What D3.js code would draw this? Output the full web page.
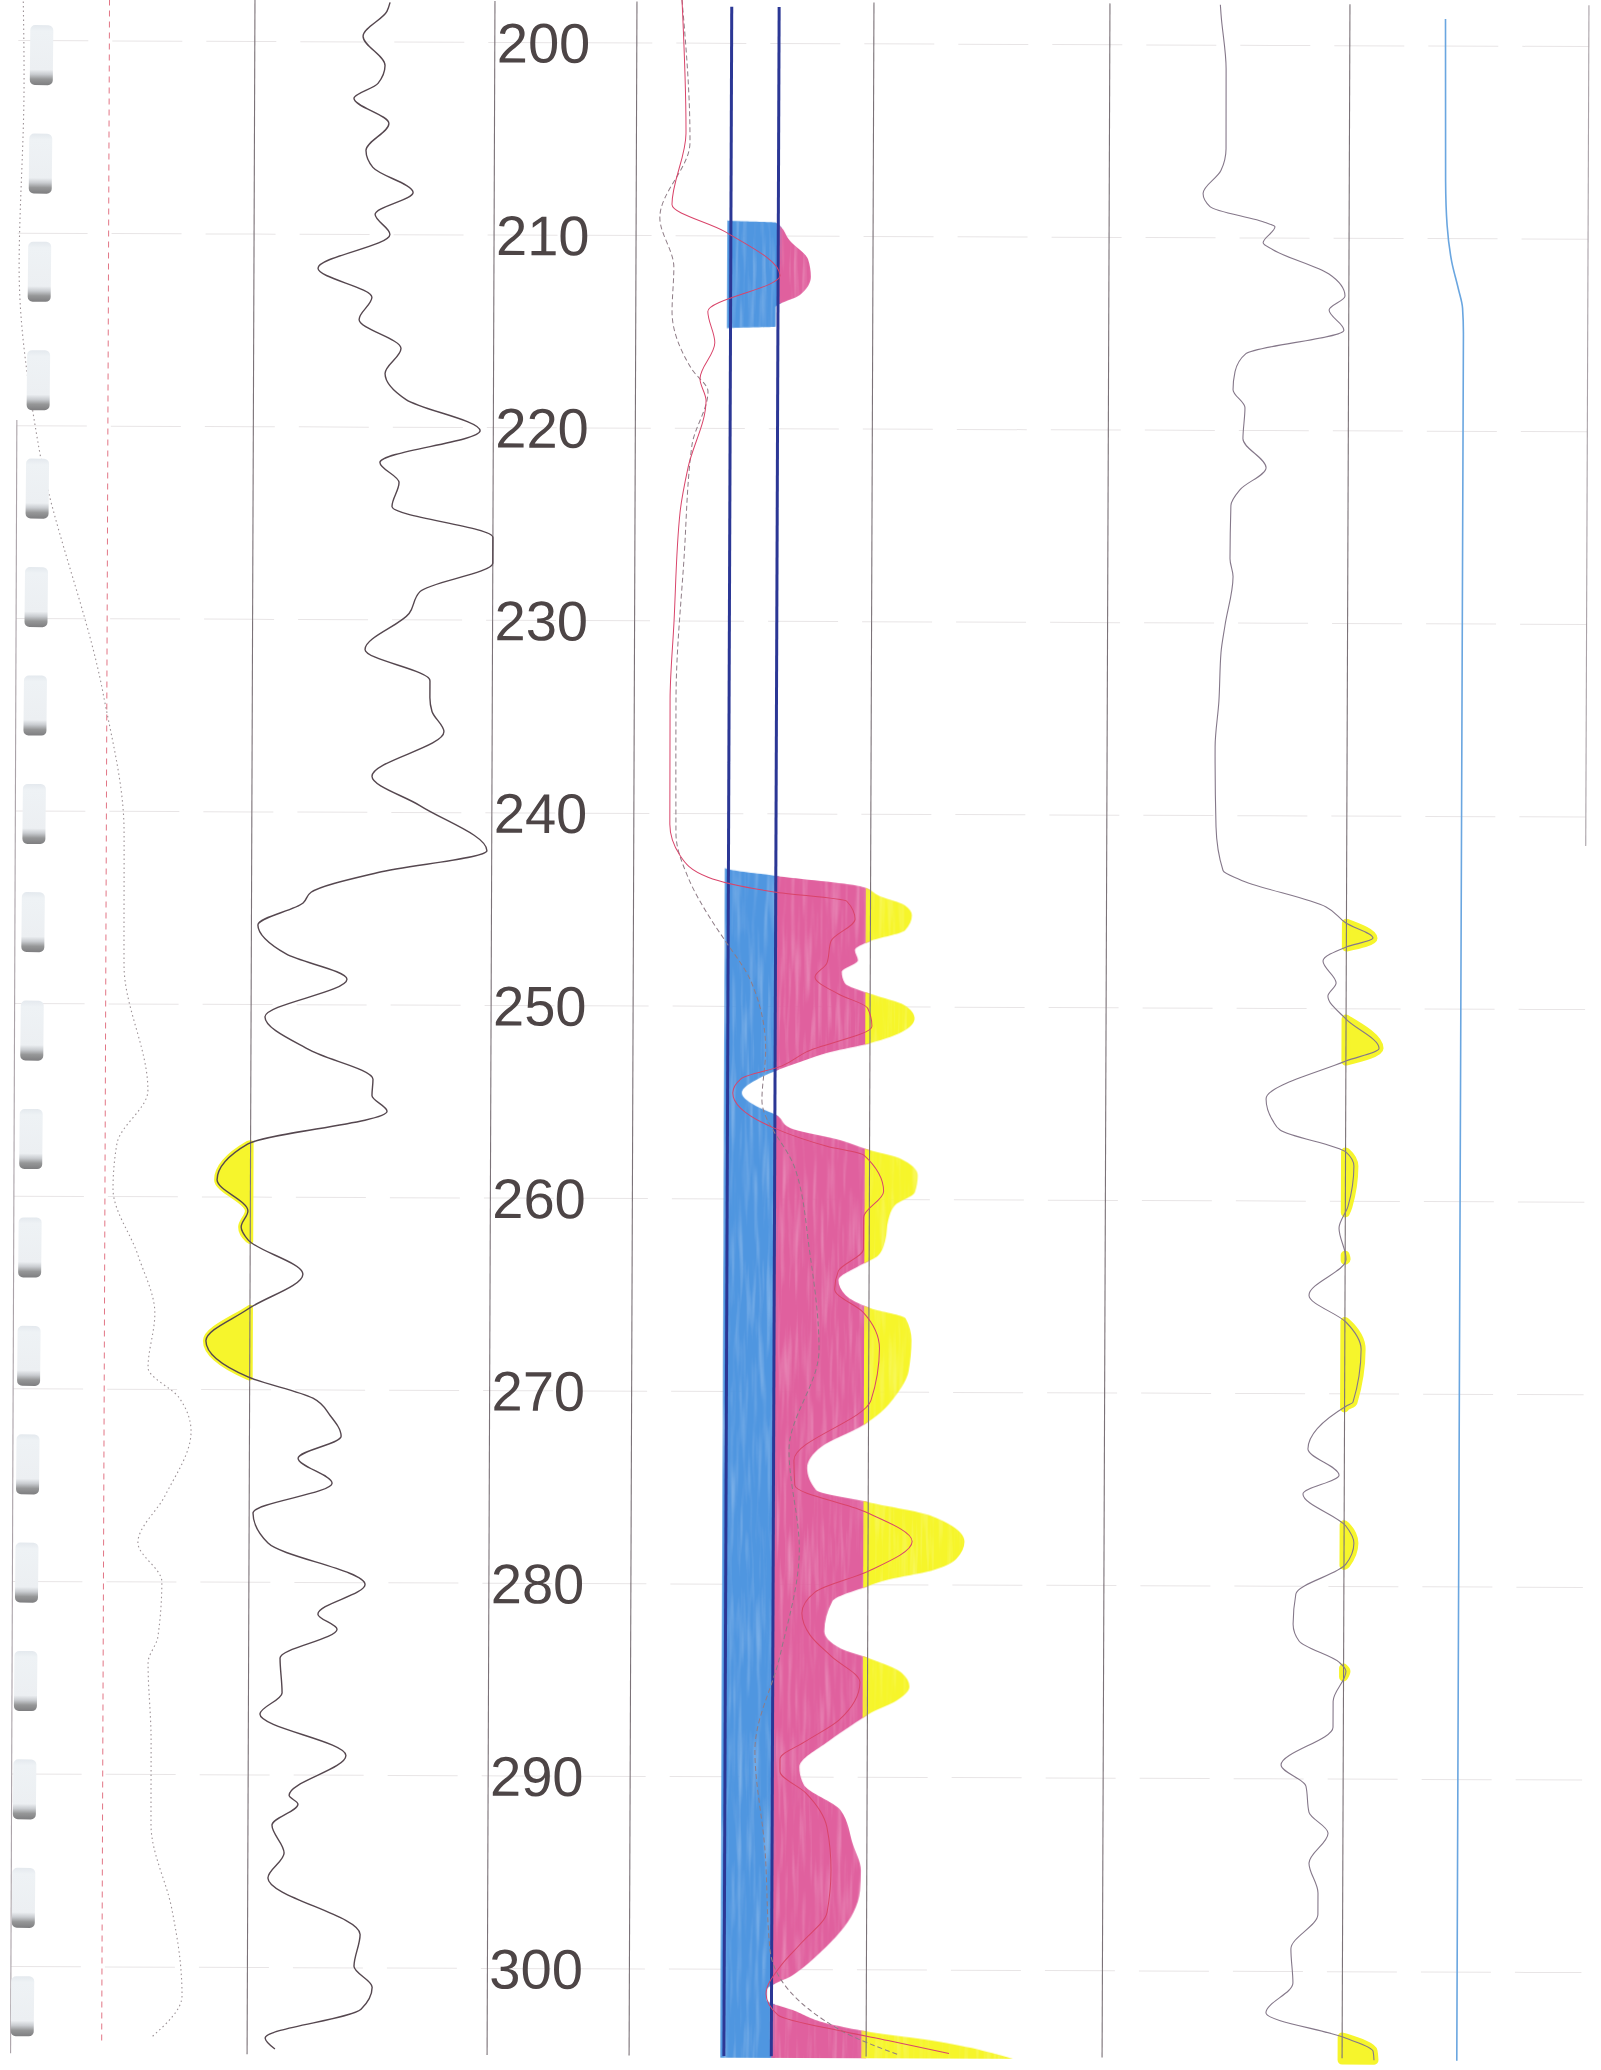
<!DOCTYPE html>
<html>
<head>
<meta charset="utf-8">
<script src="https://cdn.jsdelivr.net/npm/d3@7"></script>
<style>
  html, body { margin: 0; padding: 0; background: #fff; }
  svg { display: block; }
</style>
</head>
<body>
<div id="log"></div>
<script>
const width = 1601;
const height = 2070;

// depth labels in the depth track
const depthTicks = [200, 210, 220, 230, 240, 250, 260, 270, 280, 290, 300];

// core sample markers (centre depth)
const coreDepths = [200.75, 206.38, 212.0, 217.63, 223.26, 228.89, 234.52, 240.15, 245.77, 251.4,
  257.03, 262.66, 268.29, 273.92, 279.54, 285.17, 290.8, 296.43, 302.06];

// track 1 dotted curve [depth, value 0-10]
const dottedCurve = [[197.74,0.2],[202.36,0.25],[211.65,0.07],[220.89,0.9],[233.87,3.69],[241.04,4.6],
  [247.99,4.62],[254.49,5.65],[257.24,4.35],[259.58,4.19],[263.05,5.26],[266.07,5.98],[268.87,5.7],
  [270.43,7.02],[272.19,7.53],[275.52,6.44],[277.96,5.3],[279.99,6.32],[282.85,6.16],[284.2,5.75],
  [288.2,5.89],[292.6,5.9],[297.01,6.8],[300.13,7.19],[301.48,7.24],[303.66,5.94]];
const track1Cutoff = 3.85;

// track 2 main curve
const gammaCurve = [[197.94,5.63],[198.41,5.5],[199.7,4.51],[201.22,5.43],[202.15,5.14],[202.93,4.14],
  [204.23,5.6],[205.63,4.65],[206.51,4.94],[207.81,6.62],[208.95,5.04],[209.99,5.66],[211.76,2.67],
  [213.26,4.92],[214.41,4.39],[215.91,6.14],[217.21,5.48],[218.56,6.36],[220.17,9.45],[221.83,5.28],
  [222.87,6.08],[224.11,5.79],[225.7,10.4],[227.04,10.4],[228.53,6.97],[229.67,6.52],[231.54,4.69],
  [233.15,7.4],[234.03,7.4],[234.75,7.49],[235.8,7.99],[238.13,5.0],[239.64,7.0],[241.97,9.8],
  [243.12,5.27],[244.16,2.48],[244.72,2.15],[245.87,0.27],[247.37,1.45],[248.67,3.99],[250.64,0.58],
  [252.36,2.46],[253.86,5.09],[254.7,5.05],[255.52,5.68],[257.24,-0.11],[259.11,-1.39],[260.72,-0.1],
  [261.55,-0.38],[262.22,-0.09],[263.99,2.2],[265.81,-0.08],[267.47,-1.83],[269.34,-0.07],[270.43,2.64],
  [271.31,3.35],[272.4,3.82],[273.55,2.03],[274.84,3.45],[276.4,0.16],[277.96,0.79],[280.09,4.84],
  [281.64,2.88],[282.42,3.68],[283.93,1.31],[285.74,1.4],[286.84,0.48],[288.97,4.07],[291.05,1.71],
  [291.51,2.08],[292.6,1.0],[294.05,1.51],[295.35,0.84],[298.26,4.69],[299.92,4.44],[301.0,5.2],
  [302.15,4.74],[303.66,0.75],[304.23,1.16]];

// track 4 curves
const resShallow = [[197.74,1.9],[204.69,2.09],[208.38,1.51],[209.78,3.75],[212.05,6.08],[213.93,3.04],
  [215.55,3.34],[217.42,2.72],[218.56,2.98],[222.04,2.23],[224.37,1.9],[230.14,1.66],[234.07,1.51],
  [240.56,1.52],[242.17,1.95],[243.3,3.14],[244.05,5.93],[244.52,9.0],[245.45,9.35],[246.59,8.34],
  [247.74,8.17],[248.46,7.67],[249.35,8.68],[250.07,9.9],[251.0,10.08],[252.36,7.3],[253.08,6.29],
  [253.76,4.56],[254.49,4.22],[256.3,5.95],[257.24,8.2],[257.7,9.76],[259.58,10.6],[260.93,9.76],
  [262.59,9.76],[263.73,8.7],[264.67,8.55],[265.86,9.76],[267.73,10.45],[270.43,10.1],[273.55,6.86],
  [274.85,6.9],[276.19,9.82],[277.75,11.86],[279.31,10.0],[280.4,7.77],[281.49,7.22],[282.63,7.57],
  [283.72,8.46],[285.07,9.68],[287.04,8.8],[288.14,7.41],[289.07,6.32],[289.7,6.32],[290.84,7.42],
  [292.6,8.31],[294.84,8.49],[297.02,8.33],[298.58,7.28],[299.72,6.44],[301.27,5.77],[302.37,6.28],
  [303.24,9.19],[303.66,10.92],[304.33,13.5]];
const resDeep = [[197.74,1.9],[205.16,2.26],[209.05,1.0],[211.65,1.6],[213.93,1.53],[216.94,2.38],
  [218.09,3.06],[220.89,2.39],[226.66,2.08],[234.02,1.76],[241.04,1.78],[243.32,2.3],[245.66,3.36],
  [246.59,3.87],[248.62,4.94],[252.26,5.6],[254.85,5.45],[258.38,6.85],[262.64,7.48],[267.83,7.9],
  [273.02,6.65],[278.2,7.1],[283.72,6.3],[288.6,5.26],[293.79,5.7],[298.98,5.93],[303.13,8.9],[304.43,11.43]];
// outer edge of the hand colouring in tracks 4-5
const shadeEdge = [[197.7,2.5],[209.2,2.5],[209.3,5.9],[210.25,6.5],[211.2,7.26],[212.1,7.38],[213.05,6.92],
  [213.7,5.9],[214.7,5.9],[214.8,2.5],[242.8,2.5],[243.2,5.92],[243.74,9.55],[244.26,10.4],[244.72,11.45],
  [245.24,11.75],[246.02,11.46],[246.59,9.98],[247.06,9.35],[247.58,9.48],[248.2,8.8],[248.77,8.93],
  [249.35,10.07],[249.92,11.46],[250.59,11.88],[251.22,11.47],[251.89,10.0],[252.36,8.32],[252.88,7.05],
  [253.29,6.12],[253.71,5.36],[254.49,4.6],[255.27,5.36],[255.63,6.04],[256.3,6.64],[256.93,8.75],
  [257.45,10.02],[257.86,11.28],[258.75,12.04],[259.63,11.92],[260.3,11.08],[261.08,10.8],[262.12,10.68],
  [262.9,10.39],[263.42,9.63],[264.2,8.71],[264.98,9.01],[265.65,10.07],[266.17,11.55],[267.31,11.8],
  [268.87,11.69],[270.17,11.15],[271.05,10.52],[271.73,9.77],[272.87,8.0],[273.96,7.42],[275.1,7.8],
  [275.73,10.04],[276.4,12.62],[277.75,14.07],[278.63,13.74],[279.26,12.68],[279.72,10.9],[280.09,9.97],
  [280.87,8.5],[282.43,8.17],[283.31,8.85],[283.83,10.08],[284.56,11.43],[285.29,11.77],[286.01,11.23],
  [286.64,10.17],[287.31,9.33],[288.14,8.36],[289.49,7.14],[290.38,7.32],[291.73,8.89],[293.49,9.41],
  [294.84,9.75],[295.88,9.72],[297.02,9.44],[299.05,8.1],[300.29,6.89],[301.07,5.8],[301.58,5.8],
  [302.1,6.9],[302.83,8.47],[303.24,10.2],[303.66,12.77],[304.17,14.92],[304.59,16.2]];
const blueCutoffs = [4, 6];

// track 6 curve
const track6Curve = [[197.9,4.6],[198.41,4.63],[201.22,4.85],[205.37,4.86],[206.51,4.65],[207.7,3.91],
  [208.38,4.2],[209.21,6.54],[209.42,6.91],[210.25,6.42],[210.61,6.83],[211.86,9.17],[213.0,9.84],
  [213.73,9.18],[214.77,9.8],[216.01,5.72],[216.95,5.27],[217.88,5.19],[218.82,5.69],[220.43,5.61],
  [221.93,6.58],[223.07,5.5],[223.9,5.12],[226.66,5.09],[227.59,5.22],[230.14,4.89],[231.54,4.73],
  [234.08,4.65],[236.42,4.5],[240.57,4.55],[242.85,4.85],[243.32,5.56],[244.72,9.15],[245.55,9.98],
  [246.33,11.11],[246.8,9.99],[247.53,9.03],[248.67,9.58],[249.35,9.24],[250.54,10.0],[252.05,11.38],
  [252.72,10.0],[254.7,6.68],[255.84,6.97],[256.31,7.27],[257.45,10.02],[258.18,10.35],[260.26,10.11],
  [261.4,9.74],[263.01,10.04],[264.88,8.5],[266.28,10.05],[267.68,10.68],[270.43,10.35],[270.64,10.06],
  [272.87,8.48],[274.22,9.78],[275.2,8.28],[276.87,10.08],[277.75,10.41],[278.84,10.08],[280.4,8.0],
  [281.96,7.89],[282.84,8.14],[283.93,9.81],[284.4,10.1],[285.96,9.57],[287.31,9.57],[289.28,7.41],
  [290.37,8.45],[291.72,8.58],[292.81,9.38],[294.37,8.59],[295.92,8.97],[297.02,8.97],[298.83,7.85],
  [300.6,7.94],[302.15,6.82],[303.45,10.16],[304.12,11.29],[304.59,11.33]];

// track 7 blue line
const track7Line = [[198.6,4.0],[207.0,4.03],[209.3,4.1],[211.2,4.3],[212.6,4.58],[213.6,4.76],[215.0,4.8],[304.6,4.8]];

const topDepth = 197.85, bottomDepth = 304.5, track7End = 241.5, leftLineStart = 219.7;

const blue = "#5096e0", pink = "#e0609e", yellow = "#f6f52c";

const svg = d3.select("#log").append("svg").attr("width", width).attr("height", height);
svg.append("rect").attr("width", width).attr("height", height).attr("fill", "#fff");
const defs = svg.append("defs");

// soft pencil streaks for the hand colouring
const crayon = defs.append("filter").attr("id", "crayon")
  .attr("x", 0).attr("y", 0).attr("width", 1).attr("height", 1);
crayon.append("feTurbulence").attr("type", "fractalNoise")
  .attr("baseFrequency", "0.22 0.015").attr("numOctaves", 2).attr("seed", 4).attr("result", "n");
crayon.append("feColorMatrix").attr("in", "n").attr("type", "matrix")
  .attr("values", "0 0 0 0 0  0 0 0 0 0  0 0 0 0 0  0 0 0 -0.6 1.28").attr("result", "a");
crayon.append("feComposite").attr("in", "SourceGraphic").attr("in2", "a").attr("operator", "in");

// the scan is a little skewed
const g = svg.append("g").attr("transform", "rotate(0.22 800 1035)");

const y = d3.scaleLinear().domain([200, 300]).range([43.6, 1969.6]);
const edges = [14.5, 251, 491, 633, 870, 1106, 1346, 1585];
const x1 = d3.scaleLinear().domain([0, 10]).range([edges[0], edges[1]]);
const x2 = d3.scaleLinear().domain([0, 10]).range([edges[1], edges[2]]);
const x4 = d3.scaleLinear().domain([0, 10]).range([edges[3], edges[4]]);
const x6 = d3.scaleLinear().domain([0, 10]).range([edges[5], edges[6]]);
const x7 = d3.scaleLinear().domain([0, 10]).range([edges[6], edges[7]]);

const curveLine = xs => d3.line().curve(d3.curveMonotoneY).x(d => xs(d[1])).y(d => y(d[0]));

// split a curve into runs where it is past a cutoff
function runs(data, inside, base) {
  const out = [];
  let cur = null;
  data.forEach((p, i) => {
    const ins = inside(p[1]);
    if (ins && !cur) {
      cur = [];
      if (i > 0) {
        const q = data[i - 1], t = (base - q[1]) / (p[1] - q[1]);
        cur.push([q[0] + t * (p[0] - q[0]), base]);
      }
    }
    if (ins) cur.push(p);
    if (!ins && cur) {
      const q = data[i - 1], t = (base - q[1]) / (p[1] - q[1]);
      cur.push([q[0] + t * (p[0] - q[0]), base]);
      out.push(cur);
      cur = null;
    }
  });
  if (cur) out.push(cur);
  return out;
}

// grid lines
g.append("g").selectAll("line").data(depthTicks).join("line")
  .attr("x1", edges[0]).attr("x2", edges[7])
  .attr("y1", d => y(d)).attr("y2", d => y(d))
  .attr("stroke", "#e8e5e6").attr("stroke-width", 1).attr("stroke-dasharray", "70,24");

// colour bands in tracks 4-5
const bands = [
  { id: "bandBlue", from: 3.6, to: 6.15, color: blue },
  { id: "bandPink", from: 6.0, to: 10, color: pink },
  { id: "bandYellow", from: 9.8, to: 22, color: yellow }
];
const shadeArea = d3.area().curve(d3.curveMonotoneY)
  .y(d => y(d[0])).x0(x4(3.85)).x1(d => x4(Math.max(d[1], 3.85)));
bands.forEach(b => {
  defs.append("clipPath").attr("id", b.id).append("rect")
    .attr("x", x4(b.from)).attr("width", x4(b.to) - x4(b.from))
    .attr("y", 0).attr("height", height);
  g.append("g").attr("clip-path", `url(#${b.id})`)
    .append("path").datum(shadeEdge).attr("d", shadeArea)
    .attr("fill", b.color).attr("filter", "url(#crayon)");
});

// yellow where track 2 curve passes left of its line
const area2 = d3.area().curve(d3.curveMonotoneY).y(d => y(d[0])).x0(x2(0)).x1(d => x2(d[1]));
g.append("g").selectAll("path").data(runs(gammaCurve, v => v < 0, 0)).join("path")
  .attr("d", area2).attr("fill", yellow).attr("stroke", yellow)
  .attr("stroke-width", 6).attr("stroke-linejoin", "round");

// yellow where track 6 curve passes its right line
const area6 = d3.area().curve(d3.curveMonotoneY).y(d => y(d[0])).x0(x6(10)).x1(d => x6(d[1]));
g.append("g").selectAll("path").data(runs(track6Curve, v => v > 10, 10)).join("path")
  .attr("d", area6).attr("fill", yellow).attr("stroke", yellow)
  .attr("stroke-width", 9).attr("stroke-linejoin", "round");

// track borders
g.append("g").selectAll("line").data(edges).join("line")
  .attr("x1", d => d).attr("x2", d => d)
  .attr("y1", (d, i) => i === 0 ? y(leftLineStart) : y(topDepth))
  .attr("y2", (d, i) => i === edges.length - 1 ? y(track7End) : y(bottomDepth))
  .attr("stroke", (d, i) => i === 0 || i === edges.length - 1 ? "#aaa2a8" : "#7b7278")
  .attr("stroke-width", 1.1);

// red dashed cut-off in track 1
g.append("line")
  .attr("x1", x1(track1Cutoff)).attr("x2", x1(track1Cutoff))
  .attr("y1", y(topDepth)).attr("y2", y(303.9))
  .attr("stroke", "#e27585").attr("stroke-width", 1).attr("stroke-dasharray", "6,5");

// dark blue lines in track 4
g.append("g").selectAll("line").data(blueCutoffs).join("line")
  .attr("x1", d => x4(d)).attr("x2", d => x4(d))
  .attr("y1", y(198.1)).attr("y2", y(bottomDepth))
  .attr("stroke", "#2b3795").attr("stroke-width", 3);

// curves
g.append("path").datum(dottedCurve).attr("d", curveLine(x1))
  .attr("fill", "none").attr("stroke", "#9c9296").attr("stroke-width", 1.1)
  .attr("stroke-dasharray", "1.5,3");

g.append("path").datum(gammaCurve)
  .attr("d", d3.line().curve(d3.curveMonotoneY).x(d => x2(Math.min(d[1], 10))).y(d => y(d[0])))
  .attr("fill", "none").attr("stroke", "#55474f").attr("stroke-width", 1.4);

g.append("path").datum(resDeep).attr("d", curveLine(x4))
  .attr("fill", "none").attr("stroke", "#8e7c86").attr("stroke-width", 1)
  .attr("stroke-dasharray", "5,3");
g.append("path").datum(resShallow).attr("d", curveLine(x4))
  .attr("fill", "none").attr("stroke", "#d9446a").attr("stroke-width", 1);

g.append("path").datum(track6Curve).attr("d", curveLine(x6))
  .attr("fill", "none").attr("stroke", "#85788a").attr("stroke-width", 1.1);

g.append("path").datum(track7Line).attr("d", curveLine(x7))
  .attr("fill", "none").attr("stroke", "#6aa6e0").attr("stroke-width", 1.6);

// core markers (they drift a little more than the grid on the scan)
const grad = defs.append("linearGradient").attr("id", "core")
  .attr("x1", 0).attr("y1", 0).attr("x2", 0).attr("y2", 1);
[[0, "#e4e9ee"], [0.1, "#eef2f5"], [0.74, "#eceff2"], [0.82, "#c9ccd0"], [0.9, "#969798"], [1, "#7e7e80"]]
  .forEach(s => grad.append("stop").attr("offset", s[0]).attr("stop-color", s[1]));
g.append("g").attr("transform", `rotate(0.34 ${x1(0.74)} 1035)`)
  .selectAll("rect").data(coreDepths).join("rect")
  .attr("x", x1(0.74) - 11.5).attr("width", 23)
  .attr("y", d => y(d) - 30).attr("height", 60)
  .attr("rx", 5).attr("fill", "url(#core)");

// depth labels
g.append("g").selectAll("text").data(depthTicks).join("text")
  .attr("x", edges[2] + 2).attr("y", d => y(d) + 20)
  .attr("font-family", "'Liberation Sans', Arial, sans-serif")
  .attr("font-size", 56).attr("fill", "#4d4546")
  .text(d => d);
</script>
</body>
</html>
